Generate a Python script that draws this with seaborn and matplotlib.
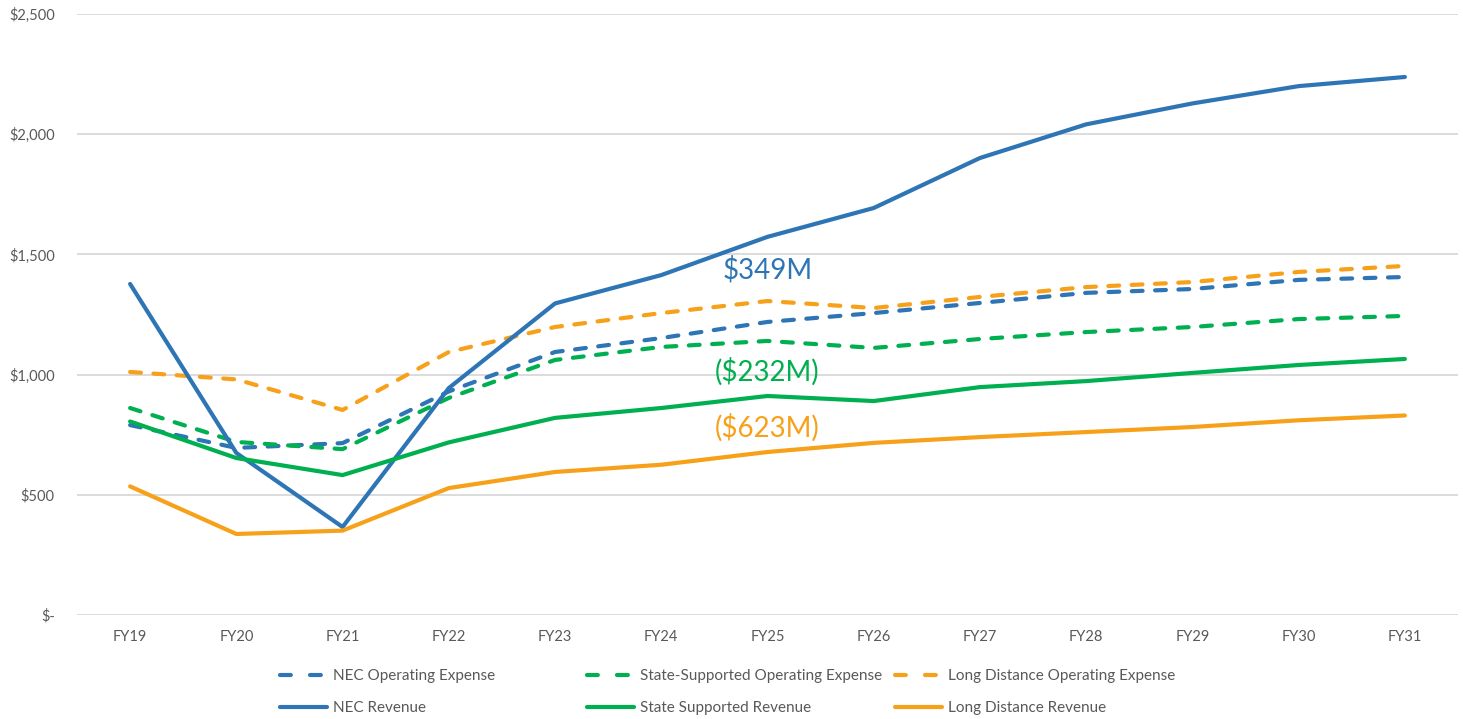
import seaborn as sns
import pandas as pd
import matplotlib.pyplot as plt
from matplotlib.lines import Line2D
from matplotlib.ticker import FuncFormatter

# Data ($M)
years = ['FY19', 'FY20', 'FY21', 'FY22', 'FY23', 'FY24', 'FY25',
         'FY26', 'FY27', 'FY28', 'FY29', 'FY30', 'FY31']
nec_opex = [790, 695, 715, 930, 1094, 1152, 1219, 1256, 1298, 1340, 1356, 1394, 1406]
state_opex = [861, 720, 690, 903, 1061, 1115, 1140, 1111, 1148, 1177, 1198, 1231, 1244]
ld_opex = [1011, 980, 853, 1094, 1198, 1256, 1306, 1277, 1323, 1364, 1385, 1427, 1452]
nec_rev = [1377, 674, 366, 944, 1296, 1414, 1573, 1693, 1901, 2041, 2128, 2200, 2238]
state_rev = [805, 653, 582, 718, 820, 861, 911, 890, 948, 973, 1007, 1040, 1065]
ld_rev = [535, 337, 351, 528, 595, 625, 678, 716, 740, 761, 782, 810, 830]

gap_labels = ['$349M', '($232M)', '($623M)']
gap_y = [1435, 1011, 778]

blue = '#2E75B6'
green = '#00B050'
orange = '#F7A11A'

sns.set_style('white')
plt.rcParams['font.family'] = ['Lato', 'DejaVu Sans']

fig = plt.figure(figsize=(14.63, 7.19), dpi=100)
ax = fig.add_axes([77 / 1463, 1 - 615 / 719, (1458 - 77) / 1463, (615 - 14) / 719])

series = [
    ('NEC Operating Expense', nec_opex, blue, True),
    ('State-Supported Operating Expense', state_opex, green, True),
    ('Long Distance Operating Expense', ld_opex, orange, True),
    ('NEC Revenue', nec_rev, blue, False),
    ('State Supported Revenue', state_rev, green, False),
    ('Long Distance Revenue', ld_rev, orange, False),
]

handles = {}
for name, vals, col, dashed in series:
    df = pd.DataFrame({'Year': years, 'Value': vals})
    kw = dict(linestyle=(0, (2.6, 3.0)), dash_capstyle='round') if dashed else dict(solid_capstyle='round')
    sns.lineplot(data=df, x='Year', y='Value', ax=ax, color=col, linewidth=3,
                 sort=False, legend=False, **kw)
    # legend proxy: two longer dashes like the original key
    if dashed:
        handles[name] = Line2D([], [], color=col, linewidth=3, linestyle=(0, (2.6, 4.6)),
                               dash_capstyle='round')
    else:
        handles[name] = Line2D([], [], color=col, linewidth=3, solid_capstyle='round')

for lab, yv, col in zip(gap_labels, gap_y, [blue, green, orange]):
    ax.text(6, yv, lab, ha='center', va='center', fontsize=20, color=col)

ax.set_xlim(-0.5, 12.5)
ax.set_ylim(0, 2500)
ax.set_yticks(range(0, 2501, 500))
ax.yaxis.set_major_formatter(FuncFormatter(lambda v, p: '$-' if v == 0 else '${:,.0f}'.format(v)))
ax.set_xlabel('')
ax.set_ylabel('')
ax.yaxis.grid(True, color='#D9D9D9', linewidth=1.3)
ax.xaxis.grid(False)
ax.set_axisbelow(True)
for s in ax.spines.values():
    s.set_visible(False)
ax.tick_params(axis='y', length=0, pad=16, labelsize=10.5, labelcolor='#595959')
ax.tick_params(axis='x', length=0, pad=11, labelsize=10.5, labelcolor='#595959')

# Legend: three columns placed like the original
cols = [
    (['NEC Operating Expense', 'NEC Revenue'], 280),
    (['State-Supported Operating Expense', 'State Supported Revenue'], 587),
    (['Long Distance Operating Expense', 'Long Distance Revenue'], 895),
]
for names, xpix in cols:
    leg = fig.legend([handles[n] for n in names], names, loc='upper left',
                     bbox_to_anchor=(xpix / 1463, 1 - 669 / 719), frameon=False,
                     borderpad=0, borderaxespad=0, handlelength=3.1, handletextpad=0.35,
                     labelspacing=1.2, fontsize=11)
    for t in leg.get_texts():
        t.set_color('#595959')

fig.savefig('out.png', dpi=100)
